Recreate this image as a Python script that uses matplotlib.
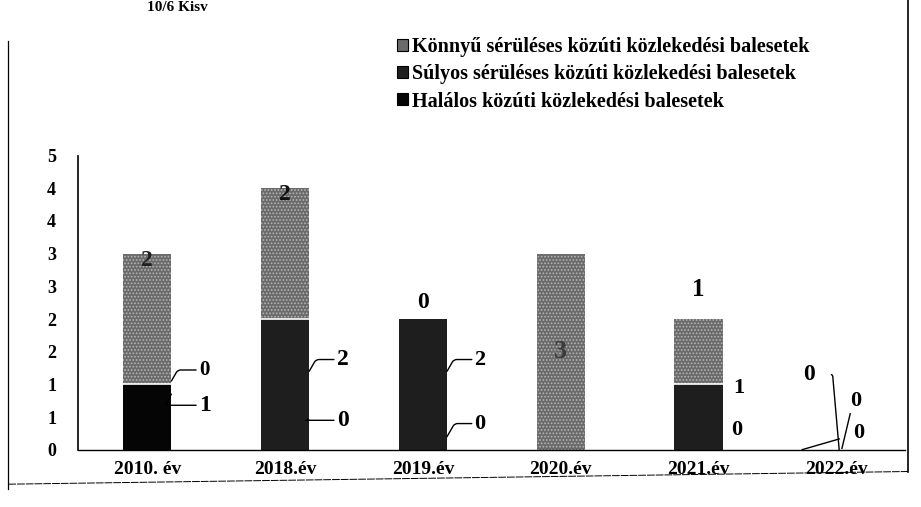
import matplotlib.pyplot as plt
import numpy as np
from matplotlib.lines import Line2D

plt.rcParams['font.family'] = ['Liberation Serif', 'DejaVu Serif']
plt.rcParams['font.weight'] = 'bold'
plt.rcParams['hatch.linewidth'] = 0.8

# adatok
years = ['2010. év', '2018.év', '2019.év', '2020.év', '2021.év', '2022.év']
halalos = [1, 0, 0, 0, 0, 0]
sulyos = [0, 2, 2, 0, 1, 0]
konnyu = [2, 2, 0, 3, 1, 0]
series_names = ['Könnyű sérüléses közúti közlekedési balesetek',
                'Súlyos sérüléses közúti közlekedési balesetek',
                'Halálos közúti közlekedési balesetek']
yticks = [0, 0.5, 1, 1.5, 2, 2.5, 3, 3.5, 4, 4.5]
ytick_labels = ['0', '1', '1', '2', '2', '3', '3', '4', '4', '5']

fig = plt.figure(figsize=(9.21, 5.07), dpi=100)
ax = fig.add_axes([0.085, 0.113, 0.898, 0.58])

x = np.arange(len(years))
w = 0.35
h = np.array(halalos)
s = np.array(sulyos)
k = np.array(konnyu)

ax.bar(x, h, w, color='#050505', linewidth=0)
ax.bar(x, s, w, bottom=h, color='#1e1e1e', linewidth=0)
ax.bar(x, k, w, bottom=h + s, color='#6a6a6a', edgecolor='#b5b5b5',
       hatch='.....', linewidth=0)
# white seam between segments
for i in range(len(x)):
    if h[i] + s[i] > 0 and k[i] > 0:
        ax.plot([x[i] - w / 2, x[i] + w / 2], [h[i] + s[i]] * 2,
                color='white', lw=1.2)

ax.set_xlim(-0.5, len(years) - 0.5)
ax.set_ylim(0, 4.5)
ax.set_yticks(yticks)
ax.set_yticklabels(ytick_labels, fontsize=13, fontweight='bold')
ax.set_xticks(x)
ax.set_xticklabels(years, fontsize=14, fontweight='bold')
ax.tick_params(axis='x', length=0, pad=8)
ax.tick_params(axis='y', length=0, pad=16)
for sp in ['top', 'right']:
    ax.spines[sp].set_visible(False)
ax.spines['left'].set_linewidth(1.2)
ax.spines['bottom'].set_linewidth(1.0)
ax.spines['bottom'].set_linestyle((0, (6, 1)))


def lab(txt, xy, xytext, size=17):
    ax.annotate(txt, xy=xy, xytext=xytext, textcoords='data',
                fontsize=size, fontweight='bold', ha='left', va='center',
                arrowprops=dict(arrowstyle='-', lw=1.0, color='black',
                                shrinkA=0, shrinkB=0,
                                connectionstyle='angle,angleA=0,angleB=60,rad=3'))


def top(txt, xv, yv, color='black', size=17):
    ax.text(xv, yv, txt, fontsize=size, fontweight='bold', ha='center',
            va='center', color=color)


r = w / 2
# 2010
lab(str(halalos[0]), (r, 0.85), (r + 0.2, 0.68))
lab(str(sulyos[0]), (r, 1.05), (r + 0.2, 1.22), size=15)
top(str(konnyu[0]), 0, 2.9, color='#222222')
# 2018
lab(str(sulyos[1]), (1 + r, 1.2), (1 + r + 0.2, 1.38))
lab(str(halalos[1]), (1 + r, 0.45), (1 + r + 0.2, 0.45))
top(str(konnyu[1]), 1, 3.9, color='#111111')
# 2019
top(str(konnyu[2]), 2, 2.25)
lab(str(sulyos[2]), (2 + r, 1.2), (2 + r + 0.2, 1.38), size=16)
lab(str(halalos[2]), (2 + r, 0.2), (2 + r + 0.2, 0.4), size=16)
# 2020
top(str(konnyu[3]), 3, 1.5, color='#3a3a3a', size=19)
# 2021
top(str(konnyu[4]), 4, 2.45, size=18)
ax.text(4 + r + 0.08, 0.95, str(sulyos[4]), fontsize=16, fontweight='bold',
        ha='left', va='center')
ax.text(4 + r + 0.06, 0.3, str(halalos[4]), fontsize=16, fontweight='bold',
        ha='left', va='center')
# 2022
ax.annotate(str(konnyu[5]), xy=(5.02, 0.0), xytext=(4.8, 1.15),
            fontsize=17, fontweight='bold', ha='center', va='center',
            arrowprops=dict(arrowstyle='-', lw=1.0, color='black',
                            shrinkA=10, shrinkB=0,
                            connectionstyle='angle,angleA=0,angleB=95,rad=2'))
ax.text(5.1, 0.75, str(sulyos[5]), fontsize=16, fontweight='bold',
        ha='left', va='center')
ax.annotate(str(halalos[5]), xy=(4.75, 0.0), xytext=(5.12, 0.25),
            fontsize=16, fontweight='bold', ha='left', va='center',
            arrowprops=dict(arrowstyle='-', lw=1.0, color='black',
                            shrinkA=8, shrinkB=0))
ax.plot([5.04, 5.1], [0.02, 0.55], color='black', lw=1.0)

handles = [plt.Rectangle((0, 0), 1, 1, facecolor='#6a6a6a', edgecolor='black',
                         lw=0.8),
           plt.Rectangle((0, 0), 1, 1, facecolor='#1e1e1e', edgecolor='black',
                         lw=0.8),
           plt.Rectangle((0, 0), 1, 1, facecolor='#050505', edgecolor='black',
                         lw=0.8)]
fig.legend(handles, series_names, loc='upper left',
           bbox_to_anchor=(0.418, 0.95), frameon=False,
           prop={'family': 'Liberation Serif', 'weight': 'bold', 'size': 14.5},
           handlelength=0.55, handleheight=0.55, handletextpad=0.2,
           labelspacing=0.35, borderpad=0.1)

# keret (scan frame)
fig.add_artist(Line2D([0.009, 0.009], [0.035, 0.92], color='black', lw=0.9,
                      transform=fig.transFigure))
fig.add_artist(Line2D([0.986, 0.986], [0.07, 1.0], color='black', lw=1.2,
                      transform=fig.transFigure))
fig.add_artist(Line2D([0.009, 0.986], [0.045, 0.07], color='black', lw=0.7,
                      ls=(0, (8, 1)), transform=fig.transFigure))
fig.text(0.16, 0.998, '10/6 Kisv', fontsize=11, fontweight='bold',
         ha='left', va='top')

fig.savefig('out.png', dpi=100)
